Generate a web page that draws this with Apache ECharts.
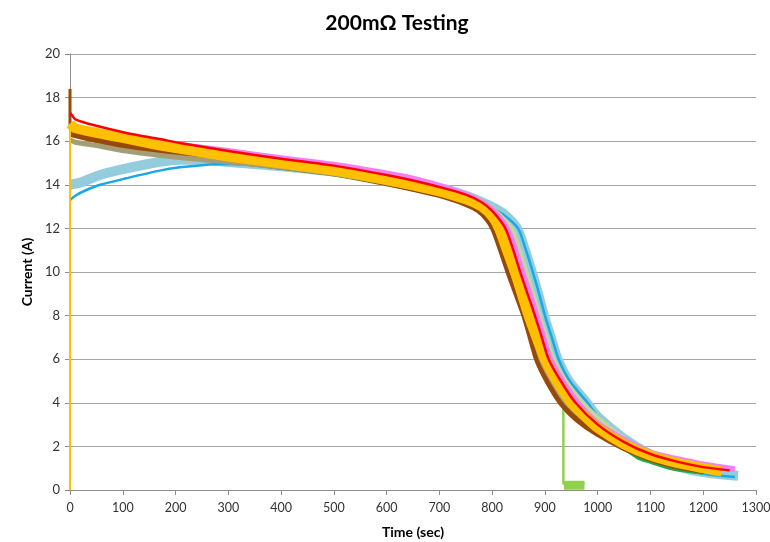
<!DOCTYPE html>
<html>
<head>
<meta charset="utf-8">
<script src="https://cdn.jsdelivr.net/npm/echarts@6/dist/echarts.min.js"></script>
<style>
  html, body { margin: 0; padding: 0; background: #ffffff; }
  #chart { width: 770px; height: 542px; }
</style>
</head>
<body>
<div id="chart"></div>
<script>
// Discharge current traces, time in seconds, current in amps.
const xTicks = [0, 1300, 100];
const yTicks = [0, 20, 2];

const lightBlueTime = [0, 20, 57, 107, 170, 208, 250, 300, 400, 500, 600, 700, 750, 790, 820, 847, 862, 875, 887, 898, 911, 924, 945, 979, 1000, 1050, 1100, 1150, 1200, 1266];
const lightBlueAmps = [14.0, 14.1, 14.45, 14.75, 15.05, 15.15, 15.15, 15.05, 14.85, 14.6, 14.25, 13.85, 13.5, 13.1, 12.7, 12.0, 11.0, 10.0, 9.0, 8.0, 7.0, 6.0, 5.0, 4.0, 3.35, 2.35, 1.62, 1.1, 0.82, 0.65];

const blueTime = [0, 10, 30, 57, 107, 170, 208, 250, 300, 400, 500, 600, 700, 750, 790, 820, 849, 864, 877, 889, 900, 913, 926, 947, 981, 1000, 1050, 1100, 1150, 1200, 1260];
const blueAmps = [13.3, 13.5, 13.75, 14.0, 14.3, 14.65, 14.8, 14.9, 14.95, 14.8, 14.55, 14.2, 13.8, 13.45, 13.05, 12.65, 12.0, 11.0, 10.0, 9.0, 8.0, 7.0, 6.0, 5.0, 4.0, 3.4, 2.35, 1.6, 1.05, 0.75, 0.6];

const paleGreenTime = [0, 100, 200, 300, 400, 500, 600, 700, 750, 780, 800, 834, 849, 862, 875, 887, 900, 913, 936, 968, 1000, 1050, 1100, 1150, 1200, 1230];
const paleGreenAmps = [16.6, 16.05, 15.6, 15.25, 14.95, 14.65, 14.25, 13.8, 13.45, 13.15, 12.85, 12.0, 11.0, 10.0, 9.0, 8.0, 7.0, 6.0, 5.0, 4.0, 3.25, 2.3, 1.65, 1.2, 0.95, 0.85];

const greenTime = [0, 100, 200, 300, 400, 500, 600, 700, 780, 810, 824, 839, 851, 864, 880, 895, 917, 944, 1000, 1050, 1077, 1100, 1140, 1180, 1200];
const greenAmps = [16.4, 15.9, 15.45, 15.1, 14.8, 14.5, 14.05, 13.55, 12.8, 12.0, 11.0, 10.0, 9.0, 8.0, 7.0, 6.0, 5.0, 4.0, 2.7, 1.9, 1.45, 1.27, 0.97, 0.82, 0.78];

const lightGreenTime = [0, 100, 200, 300, 400, 500, 600, 700, 750, 780, 808, 822, 836, 850, 865, 877, 890, 912, 935];
const lightGreenAmps = [16.3, 15.85, 15.45, 15.1, 14.75, 14.45, 14.0, 13.5, 13.15, 12.8, 12.0, 11.0, 10.0, 9.0, 8.0, 7.0, 6.0, 4.9, 4.1];
const lightGreenDropTime = [935, 935, 975];
const lightGreenDropAmps = [4.1, 0.3, 0.3];
const lightGreenTailTime = [936, 975];
const lightGreenTailAmps = [0.22, 0.22];

const khakiTime = [0, 10, 50, 107, 208, 300, 400, 500, 600, 700, 750, 780, 800, 810, 824, 838, 853, 867, 880, 893, 914, 941, 1000, 1050, 1100, 1150, 1200];
const khakiAmps = [16.05, 15.95, 15.8, 15.55, 15.25, 15.05, 14.8, 14.5, 14.1, 13.6, 13.25, 12.9, 12.4, 12.0, 11.0, 10.0, 9.0, 8.0, 7.0, 6.0, 5.0, 4.0, 2.75, 2.05, 1.55, 1.2, 0.98];

const brownSpikeTime = [0, 0];
const brownSpikeAmps = [18.4, 16.6];
const brownTime = [1, 50, 107, 200, 300, 400, 500, 600, 700, 750, 775, 792, 805, 820, 834, 849, 864, 876, 888, 908, 934, 962, 1000, 1050, 1100, 1150, 1200];
const brownAmps = [16.4, 16.12, 15.8, 15.45, 15.18, 14.9, 14.6, 14.15, 13.6, 13.2, 12.9, 12.5, 12.0, 11.0, 10.0, 9.0, 8.0, 7.0, 6.0, 5.0, 4.0, 3.3, 2.65, 2.0, 1.5, 1.15, 0.95];

const pinkTime = [0, 100, 200, 300, 400, 500, 600, 650, 700, 750, 780, 800, 828, 844, 857, 871, 884, 897, 910, 933, 962, 1000, 1050, 1100, 1150, 1200, 1260];
const pinkAmps = [16.7, 16.2, 15.85, 15.55, 15.22, 14.92, 14.52, 14.28, 13.95, 13.55, 13.2, 12.85, 12.0, 11.0, 10.0, 9.0, 8.0, 7.0, 6.0, 5.0, 4.0, 3.05, 2.3, 1.72, 1.42, 1.17, 0.95];

const orangeStartTime = [0, 0];
const orangeStartAmps = [0, 16.8];
const orangeTime = [0, 10, 50, 100, 150, 200, 300, 400, 500, 600, 650, 700, 750, 780, 800, 813, 828, 843, 856, 869, 884, 900, 922, 950, 977, 1000, 1050, 1100, 1150, 1200, 1235];
const orangeAmps = [16.8, 16.6, 16.38, 16.15, 15.9, 15.68, 15.3, 14.97, 14.65, 14.22, 13.97, 13.7, 13.33, 13.0, 12.55, 12.0, 11.0, 10.0, 9.0, 8.0, 7.0, 6.0, 5.0, 4.0, 3.35, 2.85, 2.1, 1.58, 1.24, 1.0, 0.85];

const redTime = [0, 5, 10, 44, 107, 170, 208, 300, 400, 500, 600, 650, 700, 750, 780, 800, 825, 840, 853, 867, 881, 894, 907, 930, 958, 1000, 1050, 1100, 1150, 1200, 1250];
const redAmps = [17.3, 17.15, 17.0, 16.74, 16.38, 16.1, 15.92, 15.55, 15.2, 14.88, 14.45, 14.2, 13.9, 13.55, 13.2, 12.8, 12.0, 11.0, 10.0, 9.0, 8.0, 7.0, 6.0, 5.0, 4.0, 3.0, 2.2, 1.65, 1.3, 1.05, 0.9];

function pairs(t, a) { return t.map((v, i) => [v, a[i]]); }

function trace(name, t, a, color, width, smooth) {
  return {
    name: name,
    type: 'line',
    data: pairs(t, a),
    showSymbol: false,
    symbol: 'none',
    smooth: smooth === false ? false : 0.25,
    lineStyle: { color: color, width: width, cap: 'butt', join: 'round' },
    itemStyle: { color: color },
    animation: false,
    silent: true
  };
}

const fontFamily = 'Lato, "Open Sans", "Liberation Sans", sans-serif';

const chart = echarts.init(document.getElementById('chart'), null, { renderer: 'canvas' });
chart.setOption({
  backgroundColor: '#ffffff',
  animation: false,
  title: {
    text: '200mΩ Testing',
    left: 392,
    textAlign: 'center',
    top: 8,
    textStyle: { fontFamily: fontFamily, fontSize: 21, fontWeight: 'bold', color: '#000000' }
  },
  grid: { left: 70, right: 14, top: 54, bottom: 52, containLabel: false, outerBoundsMode: 'none' },
  xAxis: {
    type: 'value',
    min: xTicks[0], max: xTicks[1], interval: xTicks[2],
    name: 'Time (sec)',
    nameLocation: 'middle',
    nameGap: 35,
    nameTextStyle: { fontFamily: fontFamily, fontSize: 14, fontWeight: 'bold', color: '#000000' },
    axisLine: { show: true, lineStyle: { color: '#8c8c8c', width: 1 } },
    axisTick: { show: true, length: 5, lineStyle: { color: '#8c8c8c' } },
    axisLabel: { fontFamily: fontFamily, fontSize: 12.5, color: '#333333', margin: 11, formatter: (v) => String(v) },
    splitLine: { show: false }
  },
  yAxis: {
    type: 'value',
    min: yTicks[0], max: yTicks[1], interval: yTicks[2],
    name: 'Current (A)',
    nameLocation: 'middle',
    nameGap: 35,
    nameTextStyle: { fontFamily: fontFamily, fontSize: 14, fontWeight: 'bold', color: '#000000' },
    axisLine: { show: true, lineStyle: { color: '#8c8c8c', width: 1 } },
    axisTick: { show: true, length: 5, lineStyle: { color: '#8c8c8c' } },
    axisLabel: { fontFamily: fontFamily, fontSize: 13, color: '#333333', margin: 10 },
    splitLine: { show: true, lineStyle: { color: '#a6a6a6', width: 1 } }
  },
  series: [
    trace('Light blue', lightBlueTime, lightBlueAmps, '#93cddd', 10),
    trace('Blue', blueTime, blueAmps, '#1aa7e6', 2.5),
    trace('Pale green', paleGreenTime, paleGreenAmps, '#c3d69b', 7),
    trace('Green', greenTime, greenAmps, '#21a84a', 3),
    trace('Light green', lightGreenTime, lightGreenAmps, '#92d050', 3),
    trace('Light green drop', lightGreenDropTime, lightGreenDropAmps, '#92d050', 2.5, false),
    trace('Light green tail', lightGreenTailTime, lightGreenTailAmps, '#92d050', 9, false),
    trace('Brown spike', brownSpikeTime, brownSpikeAmps, '#984807', 3, false),
    trace('Brown', brownTime, brownAmps, '#984807', 9),
    trace('Khaki', khakiTime, khakiAmps, '#a39e78', 5),
    trace('Pink', pinkTime, pinkAmps, '#f47ef4', 6),
    trace('Orange start', orangeStartTime, orangeStartAmps, '#ffc000', 2, false),
    trace('Orange', orangeTime, orangeAmps, '#ffc000', 10),
    trace('Red', redTime, redAmps, '#ff0000', 2.5)
  ]
});
</script>
</body>
</html>
